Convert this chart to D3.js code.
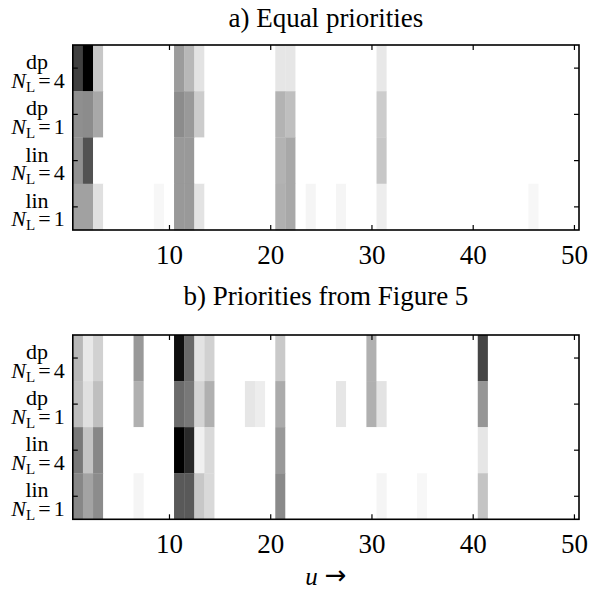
<!DOCTYPE html>
<html>
<head>
<meta charset="utf-8">
<script src="https://cdn.jsdelivr.net/npm/d3@7"></script>
<style>
  body { margin: 0; background: #fff; }
</style>
</head>
<body>
<div id="chart"></div>
<script>
// column index u = 1..50
const uValues = d3.range(1, 51);
const xTicks = [10, 20, 30, 40, 50];
const rowNames = ['dp', 'dp', 'lin', 'lin'];
const rowNL = ['4', '1', '4', '1'];

// cell darkness (0 = white, 1 = black), given as [u, value]; missing u = 0
// a) Equal priorities
const aDp4  = [[1, .75], [2, 1], [3, .22], [11, .39], [12, .28], [13, .11], [21, .1], [22, .1], [31, .09]];
const aDp1  = [[1, .44], [2, .45], [3, .34], [11, .45], [12, .4], [13, .2], [21, .3], [22, .25], [31, .2]];
const aLin4 = [[1, .43], [2, .68], [11, .4], [12, .4], [21, .3], [22, .34], [31, .22]];
const aLin1 = [[1, .37], [2, .37], [3, .12], [9, .03], [11, .4], [12, .4], [13, .11], [21, .31], [22, .34],
               [24, .04], [27, .04], [31, .07], [46, .03]];
// b) Priorities from Figure 5
const bDp4  = [[1, .28], [2, .09], [3, .18], [7, .4], [11, .94], [12, .59], [13, .11], [14, .18], [21, .21],
               [30, .31], [41, .73]];
const bDp1  = [[1, .26], [2, .12], [3, .25], [7, .31], [11, .58], [12, .53], [13, .17], [14, .31], [18, .1],
               [19, .07], [21, .33], [27, .1], [30, .31], [31, .11], [41, .41]];
const bLin4 = [[1, .53], [2, .23], [3, .47], [11, 1], [12, .84], [13, .06], [14, .15], [21, .4], [41, .1]];
const bLin1 = [[1, .47], [2, .36], [3, .45], [7, .04], [11, .65], [12, .65], [13, .22], [14, .15], [21, .46],
               [31, .04], [35, .03], [41, .23]];

const width = 591, height = 592;
const left = 72.8, right = 579;
const serif = '"Liberation Serif", "Times New Roman", serif';

const svg = d3.select('#chart').append('svg')
    .attr('width', width)
    .attr('height', height)
    .style('font-family', serif);

const x = d3.scaleLinear().domain([0.5, 50.5]).range([left, right]);
const gray = d3.scaleLinear().domain([0, 1]).range(['#ffffff', '#000000']);

function drawPanel(rows, top, bottom, title, titleY) {
    const y = d3.scaleBand().domain(d3.range(rows.length)).range([top, bottom]);
    const g = svg.append('g');

    rows.forEach((pairs, r) => {
        const lookup = new Map(pairs);
        g.selectAll(null)
            .data(uValues)
            .enter()
            .append('rect')
            .attr('x', u => x(u - 0.5))
            .attr('y', y(r))
            .attr('width', x(1.5) - x(0.5) + 0.3)
            .attr('height', y.bandwidth() + 0.3)
            .attr('fill', u => gray(lookup.get(u) || 0));
    });

    // ticks on all four sides, pointing inward
    const bottomAxis = g.append('g')
        .attr('transform', `translate(0,${bottom})`)
        .call(d3.axisBottom(x).tickValues(xTicks).tickSize(-5).tickSizeOuter(0));
    bottomAxis.attr('font-family', null);
    bottomAxis.selectAll('text')
        .attr('y', 34).attr('dy', 0)
        .style('font-family', serif)
        .style('font-size', '27px');

    g.append('g')
        .attr('transform', `translate(0,${top})`)
        .call(d3.axisTop(x).tickValues(xTicks).tickSize(-5).tickSizeOuter(0).tickFormat(''));
    g.append('g')
        .attr('transform', `translate(${left},0)`)
        .call(d3.axisLeft(y).tickSize(-5).tickSizeOuter(0).tickFormat(''));
    g.append('g')
        .attr('transform', `translate(${right},0)`)
        .call(d3.axisRight(y).tickSize(-5).tickSizeOuter(0).tickFormat(''));
    g.selectAll('.domain').remove();
    g.selectAll('.tick line').attr('stroke', '#000').attr('stroke-width', 1.2);

    // frame
    g.append('rect')
        .attr('x', left).attr('y', top)
        .attr('width', right - left).attr('height', bottom - top)
        .attr('fill', 'none')
        .attr('stroke', '#000')
        .attr('stroke-width', 1.6);

    // row labels (two lines)
    rowNames.forEach((name, r) => {
        const cy = y(r) + y.bandwidth() / 2;
        g.append('text')
            .attr('x', 37).attr('y', cy + 1)
            .attr('text-anchor', 'middle')
            .style('font-family', serif)
            .style('font-size', '22px')
            .text(name);
        const t = g.append('text')
            .attr('x', 38).attr('y', cy + 19.5)
            .attr('text-anchor', 'middle')
            .style('font-family', serif)
            .style('font-size', '22px');
        t.append('tspan').style('font-style', 'italic').text('N');
        t.append('tspan').attr('dy', 4).style('font-size', '15px').text('L');
        t.append('tspan').attr('dy', -4).attr('dx', 3).text('=');
        t.append('tspan').attr('dx', 3).text(rowNL[r]);
    });

    svg.append('text')
        .attr('x', (left + right) / 2)
        .attr('y', titleY)
        .attr('text-anchor', 'middle')
        .style('font-family', serif)
        .style('font-size', '27px')
        .text(title);
}

drawPanel([aDp4, aDp1, aLin4, aLin1], 45, 230, 'a) Equal priorities', 27);
drawPanel([bDp4, bDp1, bLin4, bLin1], 335, 519.3, 'b) Priorities from Figure 5', 305);

// x axis label
const xl = svg.append('text')
    .attr('x', (left + right) / 2)
    .attr('y', 585)
    .attr('text-anchor', 'middle')
    .style('font-family', serif)
    .style('font-size', '25px');
xl.append('tspan').style('font-style', 'italic').text('u');
xl.append('tspan').attr('dx', 7).attr('dy', -1)
    .style('font-family', '"DejaVu Sans", sans-serif')
    .style('font-size', '26px')
    .text('\u2192');
</script>
</body>
</html>
